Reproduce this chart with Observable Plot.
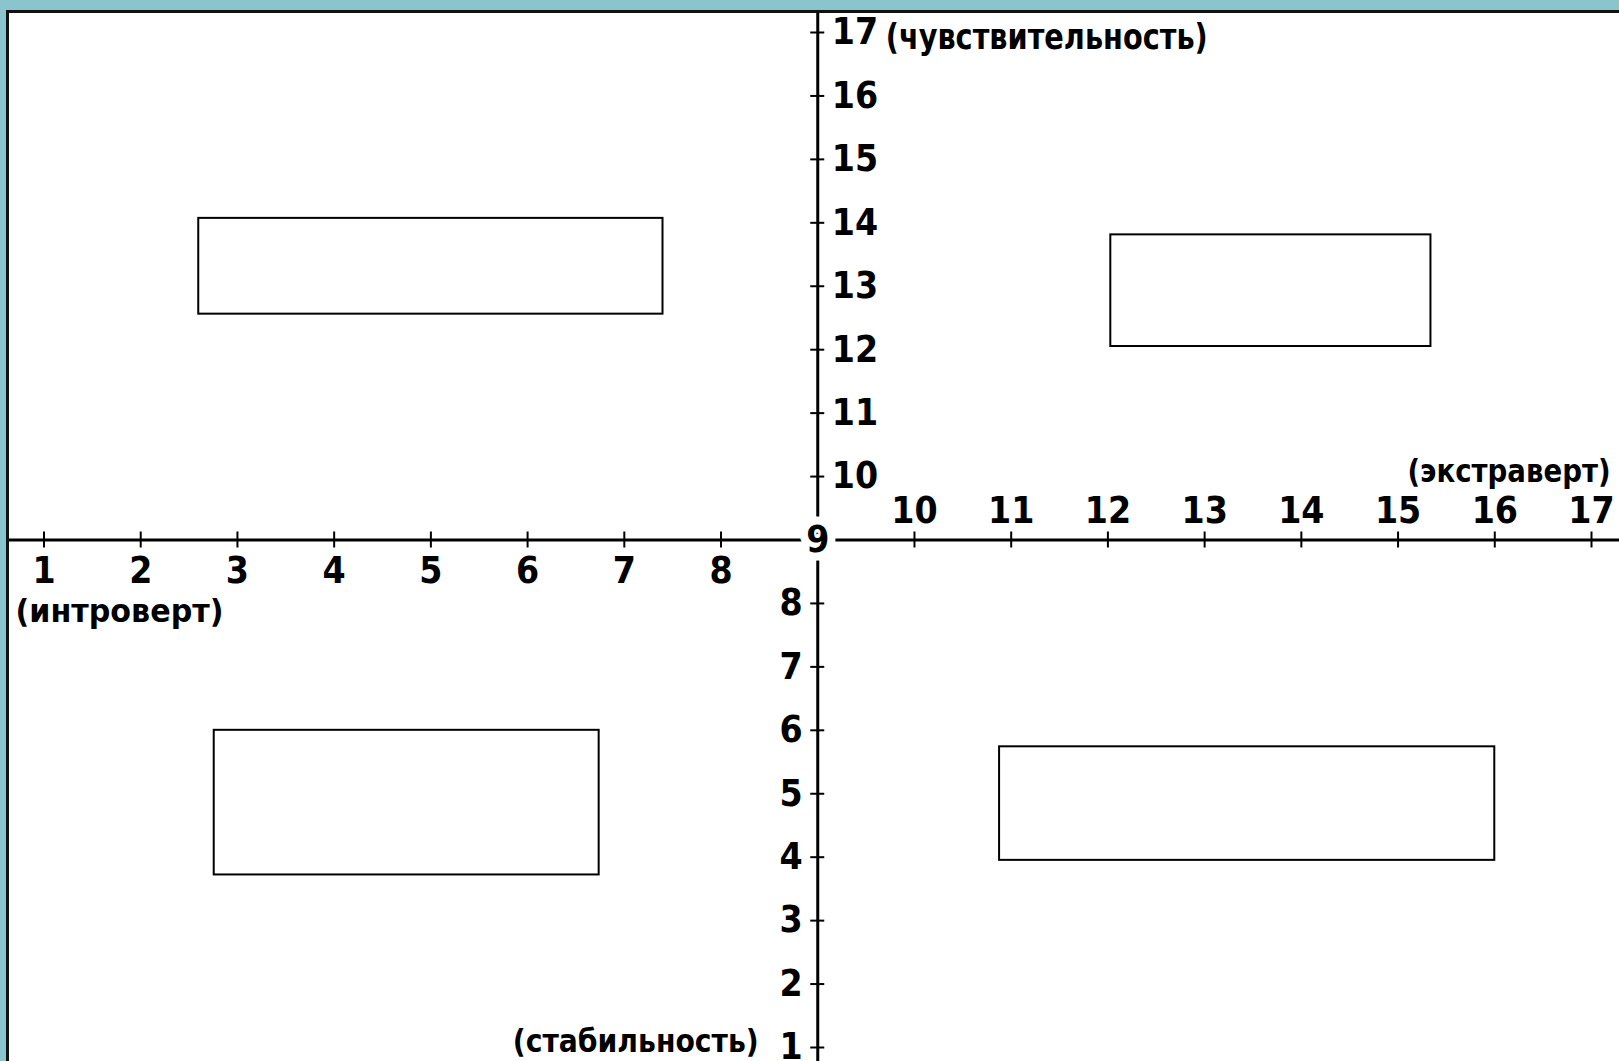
<!DOCTYPE html>
<html>
<head>
<meta charset="utf-8">
<script src="https://cdn.jsdelivr.net/npm/d3@7"></script>
<script src="https://cdn.jsdelivr.net/npm/@observablehq/plot@0.6"></script>
<style>
  html, body { margin: 0; padding: 0; background: #8ac4cd; overflow: hidden; }
  #wrap { position: relative; width: 1619px; height: 1061px; background: #8ac4cd; }
  #paper { position: absolute; left: 6px; top: 10px; right: 0; bottom: 0; background: #fff;
           border-left: 3px solid #111; border-top: 3px solid #111; }
  #chart { position: absolute; left: 0; top: 0; }
</style>
</head>
<body>
<div id="wrap"><div id="paper"></div><div id="chart"></div></div>
<script>
// ---- data ----
const center = 9;
const xTicksLeft = [1, 2, 3, 4, 5, 6, 7, 8];
const xTicksRight = [10, 11, 12, 13, 14, 15, 16, 17];
const yTicksBottom = [1, 2, 3, 4, 5, 6, 7, 8];
const yTicksTop = [10, 11, 12, 13, 14, 15, 16, 17];
const titleTop = "(чувствительность)";
const titleRight = "(экстраверт)";
const titleLeft = "(интроверт)";
const titleBottom = "(стабильность)";
// four empty boxes (one per quadrant): x1, x2, y1, y2 in axis units
const boxX1 = [2.60, 12.03, 2.76, 10.88];
const boxX2 = [7.40, 15.34, 6.74, 16.00];
const boxY1 = [12.56, 12.05, 3.72, 3.95];
const boxY2 = [14.07, 13.81, 6.00, 5.74];

const boxes = boxX1.map((x1, i) => ({x1, x2: boxX2[i], y1: boxY1[i], y2: boxY2[i]}));

const F = '"DejaVu Sans Condensed", "Liberation Sans Narrow", sans-serif';
const num = {fontFamily: F, fontWeight: "bold", fontSize: 37, fill: "#000", text: d => String(d)};
const ttl = {fontFamily: F, fontWeight: "bold", fill: "#000", textAnchor: "start", text: d => d};

const svg = Plot.plot({
  width: 1619,
  height: 1061,
  marginLeft: 9,
  marginTop: 13,
  marginRight: 0,
  marginBottom: 0,
  x: {domain: [1, 17], range: [43.5, 1591], axis: null},
  y: {domain: [1, 17], range: [1047, 32], axis: null},
  style: {background: "transparent", fontFamily: F, overflow: "visible"},
  marks: [
    Plot.ruleY([center], {stroke: "#000", strokeWidth: 3}),
    Plot.ruleX([center], {stroke: "#000", strokeWidth: 3}),
    Plot.ruleX([...xTicksLeft, ...xTicksRight], {x: d => d, y1: center, y2: center, insetTop: -8, insetBottom: -8, stroke: "#000", strokeWidth: 2}),
    Plot.ruleY([...yTicksBottom, ...yTicksTop], {y: d => d, x1: center, x2: center, insetLeft: -7, insetRight: -7, stroke: "#000", strokeWidth: 2}),
    Plot.rect(boxes, {x1: "x1", x2: "x2", y1: "y1", y2: "y2", fill: "#fff", stroke: "#000", strokeWidth: 2}),
    Plot.text(xTicksLeft, {...num, x: d => d, y: center, dy: 31}),
    Plot.text(xTicksRight, {...num, x: d => d, y: center, dy: -29}),
    Plot.text(yTicksTop, {...num, x: center, y: d => d, dx: 14, textAnchor: "start"}),
    Plot.text(yTicksBottom, {...num, x: center, y: d => d, dx: -15, textAnchor: "end"}),
    Plot.text([center], {...num, x: center, y: center, stroke: "#fff", strokeWidth: 16}),
    Plot.text([titleTop], {...ttl, fontSize: 36, x: center, y: d3.max(yTicksTop), dx: 68, dy: 5}),
    Plot.text([titleRight], {...ttl, fontSize: 32, x: d3.max(xTicksRight), y: center, dx: -184, dy: -68}),
    Plot.text([titleLeft], {...ttl, fontSize: 32, x: d3.min(xTicksLeft), y: center, dx: -28.5, dy: 72}),
    Plot.text([titleBottom], {...ttl, fontSize: 32, x: center, y: d3.min(yTicksBottom), dx: -305, dy: -6})
  ]
});

// squeeze each axis title to the width it has in the reference
const titleWidths = new Map([[titleTop, 322], [titleRight, 203], [titleLeft, 208], [titleBottom, 246]]);
d3.select(svg).selectAll("text").each(function () {
  const w = titleWidths.get(this.textContent);
  if (w) d3.select(this).attr("textLength", w).attr("lengthAdjust", "spacingAndGlyphs");
});

document.getElementById("chart").appendChild(svg);
</script>
</body>
</html>
